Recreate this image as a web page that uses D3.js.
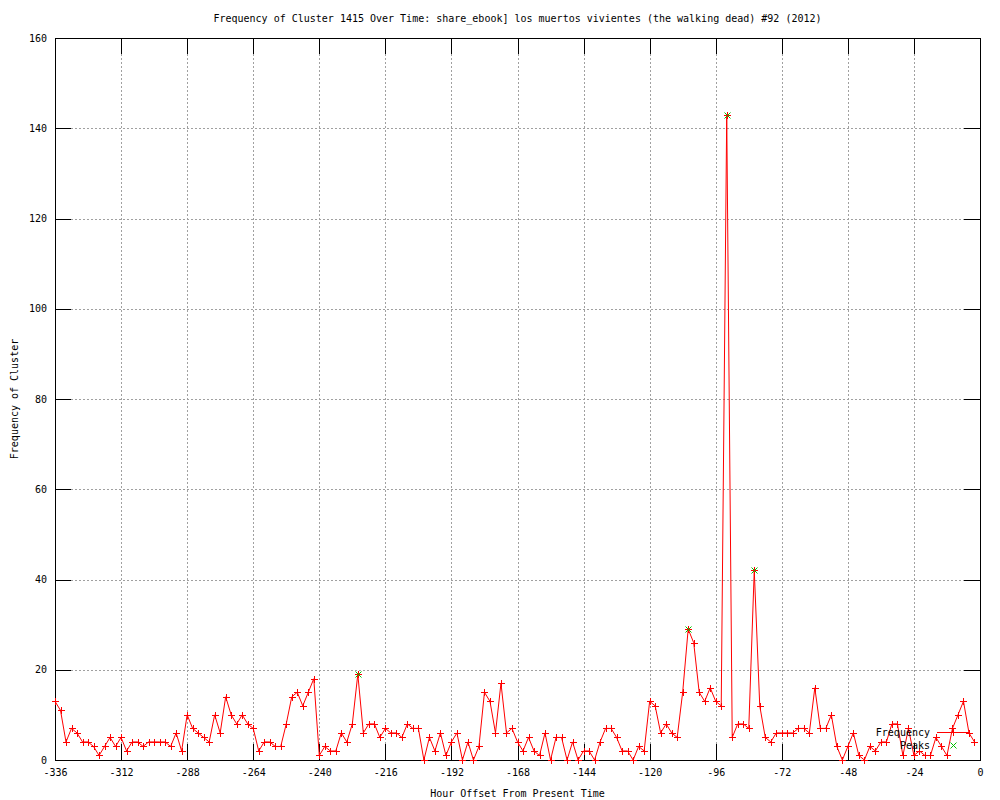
<!DOCTYPE html>
<html>
<head>
<meta charset="utf-8">
<script src="https://cdnjs.cloudflare.com/ajax/libs/d3/7.8.5/d3.min.js"></script>
<style>
body { margin: 0; background: #fff; }
text { font-family: "DejaVu Sans Mono", monospace; font-size: 10px; fill: #000; }
</style>
</head>
<body>
<script>
// hour offsets, one sample every 2 hours
hours = [
  -336,-334,-332,-330,-328,-326,-324,-322,-320,-318,-316,-314,
  -312,-310,-308,-306,-304,-302,-300,-298,-296,-294,-292,-290,
  -288,-286,-284,-282,-280,-278,-276,-274,-272,-270,-268,-266,
  -264,-262,-260,-258,-256,-254,-252,-250,-248,-246,-244,-242,
  -240,-238,-236,-234,-232,-230,-228,-226,-224,-222,-220,-218,
  -216,-214,-212,-210,-208,-206,-204,-202,-200,-198,-196,-194,
  -192,-190,-188,-186,-184,-182,-180,-178,-176,-174,-172,-170,
  -168,-166,-164,-162,-160,-158,-156,-154,-152,-150,-148,-146,
  -144,-142,-140,-138,-136,-134,-132,-130,-128,-126,-124,-122,
  -120,-118,-116,-114,-112,-110,-108,-106,-104,-102,-100,-98,
  -96,-94,-92,-90,-88,-86,-84,-82,-80,-78,-76,-74,
  -72,-70,-68,-66,-64,-62,-60,-58,-56,-54,-52,-50,
  -48,-46,-44,-42,-40,-38,-36,-34,-32,-30,-28,-26,
  -24,-22,-20,-18,-16,-14,-12,-10,-8,-6,-4,-2
]
freq = [
  13,11,4,7,6,4,4,3,1,3,5,3,
  5,2,4,4,3,4,4,4,4,3,6,2,
  10,7,6,5,4,10,6,14,10,8,10,8,
  7,2,4,4,3,3,8,14,15,12,15,18,
  1,3,2,2,6,4,8,19,6,8,8,5,
  7,6,6,5,8,7,7,0,5,2,6,1,
  4,6,0,4,0,3,15,13,6,17,6,7,
  4,2,5,2,1,6,0,5,5,0,4,0,
  2,2,0,4,7,7,5,2,2,0,3,2,
  13,12,6,8,6,5,15,29,26,15,13,16,
  13,12,143,5,8,8,7,42,12,5,4,6,
  6,6,6,7,7,6,16,7,7,10,3,0,
  3,6,1,0,3,2,4,4,8,8,1,7,
  1,2,1,1,5,3,1,7,10,13,6,4
]
peakHours = [-226, -106, -92, -82]
peakValues = [19, 29, 143, 42]
xTicks = [-336,-312,-288,-264,-240,-216,-192,-168,-144,-120,-96,-72,-48,-24,0]
yTicks = [0,20,40,60,80,100,120,140,160]

titleText = "Frequency of Cluster 1415 Over Time: share_ebook] los muertos vivientes (the walking dead) #92 (2012)"

width = 1000
height = 800
plotL = 55
plotR = 980
plotT = 38
plotB = 760

x = d3.scaleLinear().domain([-336, 0]).range([plotL, plotR])
y = d3.scaleLinear().domain([0, 160]).range([plotB, plotT])

data = hours.map(function(h, i) { return {h: h, v: freq[i]}; })
peaks = peakHours.map(function(h, i) { return {h: h, v: peakValues[i]}; })

svg = d3.select("body")
    .append("svg")
    .attr("width", width)
    .attr("height", height)

// dotted grid
svg.append("g")
    .attr("transform", "translate(0," + plotB + ")")
    .call(d3.axisBottom(x).tickValues(xTicks.slice(1, -1)).tickSize(-(plotB - plotT)).tickFormat(""))
    .call(function(g) { g.select(".domain").remove(); })
    .selectAll("line")
      .attr("stroke", "#a0a0a0")
      .attr("stroke-dasharray", "2,2")
      .attr("shape-rendering", "crispEdges")
svg.append("g")
    .attr("transform", "translate(" + plotL + ",0)")
    .call(d3.axisLeft(y).tickValues(yTicks.slice(1, -1)).tickSize(-(plotR - plotL)).tickFormat(""))
    .call(function(g) { g.select(".domain").remove(); })
    .selectAll("line")
      .attr("stroke", "#a0a0a0")
      .attr("stroke-dasharray", "2,2")
      .attr("shape-rendering", "crispEdges")

// ticks on all four sides, pointing inwards
function cleanAxis(g) {
  g.select(".domain").remove()
  g.selectAll("line").attr("stroke", "#000").attr("shape-rendering", "crispEdges")
  g.selectAll("text").attr("font-family", null).attr("font-size", null).attr("fill", "#000")
}
plain = function(d) { return String(d); }
svg.append("g")
    .attr("transform", "translate(0," + plotB + ")")
    .call(d3.axisBottom(x).tickValues(xTicks).tickSize(-16).tickPadding(9).tickFormat(plain))
    .call(cleanAxis)
svg.append("g")
    .attr("transform", "translate(0," + plotT + ")")
    .call(d3.axisTop(x).tickValues(xTicks).tickSize(-16).tickFormat(""))
    .call(cleanAxis)
svg.append("g")
    .attr("transform", "translate(" + plotL + ",0)")
    .call(d3.axisLeft(y).tickValues(yTicks).tickSize(-16).tickPadding(8).tickFormat(plain))
    .call(cleanAxis)
svg.append("g")
    .attr("transform", "translate(" + plotR + ",0)")
    .call(d3.axisRight(y).tickValues(yTicks).tickSize(-16).tickFormat(""))
    .call(cleanAxis)

svg.append("rect")
    .attr("x", plotL)
    .attr("y", plotT)
    .attr("width", plotR - plotL)
    .attr("height", plotB - plotT)
    .attr("fill", "none")
    .attr("stroke", "#000")
    .attr("shape-rendering", "crispEdges")

// frequency line with + marks
line = d3.line()
    .x(function(d) { return x(d.h); })
    .y(function(d) { return y(d.v); })

svg.append("path")
    .datum(data)
    .attr("d", line)
    .attr("fill", "none")
    .attr("stroke", "#ff0000")
    .attr("stroke-width", 1)

plus = function(cx, cy, r) {
  return "M" + (cx - r) + "," + cy + "H" + (cx + r) + "M" + cx + "," + (cy - r) + "V" + (cy + r);
}
cross = function(cx, cy, r) {
  return "M" + (cx - r) + "," + (cy - r) + "L" + (cx + r) + "," + (cy + r) +
         "M" + (cx - r) + "," + (cy + r) + "L" + (cx + r) + "," + (cy - r);
}

svg.selectAll("path.pt")
    .data(data)
    .enter()
    .append("path")
    .attr("class", "pt")
    .attr("d", function(d) { return plus(Math.round(x(d.h)) + 0.5, Math.round(y(d.v)) + 0.5, 3.5); })
    .attr("stroke", "#ff0000")
    .attr("stroke-width", 1)

svg.selectAll("path.peak")
    .data(peaks)
    .enter()
    .append("path")
    .attr("class", "peak")
    .attr("d", function(d) { return cross(Math.round(x(d.h)) + 0.5, Math.round(y(d.v)) + 0.5, 3); })
    .attr("stroke", "#00c000")
    .attr("stroke-width", 1)

// legend
svg.append("text")
    .attr("x", 930)
    .attr("y", 736)
    .attr("text-anchor", "end")
    .text("Frequency")
svg.append("path")
    .attr("d", "M937,732.5H970")
    .attr("stroke", "#ff0000")
svg.append("path")
    .attr("d", plus(953.5, 732.5, 3.5))
    .attr("stroke", "#ff0000")
svg.append("text")
    .attr("x", 930)
    .attr("y", 749)
    .attr("text-anchor", "end")
    .text("Peaks")
svg.append("path")
    .attr("d", cross(953.5, 745.5, 3))
    .attr("stroke", "#00c000")

// titles
svg.append("text")
    .attr("x", (plotL + plotR) / 2)
    .attr("y", 22)
    .attr("text-anchor", "middle")
    .text(titleText)
svg.append("text")
    .attr("x", (plotL + plotR) / 2)
    .attr("y", 797)
    .attr("text-anchor", "middle")
    .text("Hour Offset From Present Time")
svg.append("text")
    .attr("transform", "translate(18," + ((plotT + plotB) / 2) + ") rotate(-90)")
    .attr("text-anchor", "middle")
    .text("Frequency of Cluster")
</script>
</body>
</html>
